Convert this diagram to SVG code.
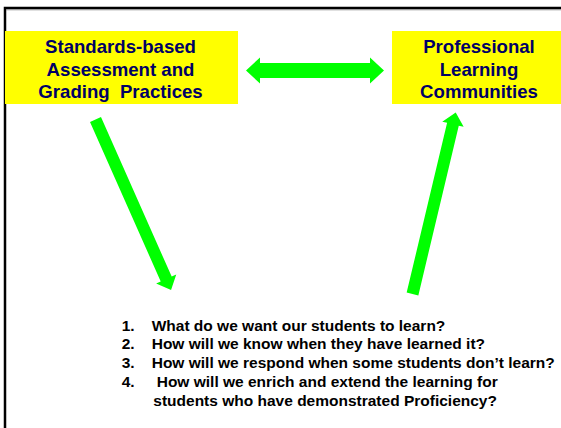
<svg xmlns="http://www.w3.org/2000/svg" width="561" height="428" viewBox="0 0 561 428">
  <defs>
    <style>
      .box { fill: #ffff00; }
      .head { font-family: "Liberation Sans", Arial, sans-serif; font-weight: bold; font-size: 18.6px; fill: #000066; text-anchor: middle; white-space: pre; }
      .list { font-family: "Liberation Sans", Arial, sans-serif; font-weight: bold; font-size: 15.5px; fill: #000000; }
      .arrow { fill: #00ff00; }
    </style>
  </defs>
  <rect x="0" y="0" width="561" height="428" fill="#ffffff"/>
  <!-- slide frame (runs past the right and bottom edges) -->
  <rect x="5" y="8" width="600" height="460" fill="none" stroke="#000000" stroke-width="2.5"/>
  <line x1="6" y1="9.8" x2="561" y2="9.8" stroke="#808080" stroke-width="0.8"/>

  <g id="node-standards">
    <rect class="box" x="5" y="31" width="233" height="73"/>
    <text class="head" x="120.5" y="53">Standards-based</text>
    <text class="head" x="120.5" y="75.5">Assessment and</text>
    <text class="head" x="120.5" y="98">Grading  Practices</text>
  </g>

  <g id="node-plc">
    <rect class="box" x="392" y="31" width="169" height="73"/>
    <text class="head" x="479" y="53">Professional</text>
    <text class="head" x="479" y="75.5">Learning</text>
    <text class="head" x="479" y="98">Communities</text>
  </g>

  <g id="node-questions">
    <text class="list" x="121.7" y="330.7">1.</text>
    <text class="list" x="151.7" y="330.7">What do we want our students to learn?</text>
    <text class="list" x="121.7" y="349.3">2.</text>
    <text class="list" x="151.7" y="349.3">How will we know when they have learned it?</text>
    <text class="list" x="121.7" y="368.3">3.</text>
    <text class="list" x="151.7" y="368.3">How will we respond when some students don’t learn?</text>
    <text class="list" x="121.7" y="387.3">4.</text>
    <text class="list" x="156.7" y="387.3">How will we enrich and extend the learning for</text>
    <text class="list" x="153.3" y="406">students who have demonstrated Proficiency?</text>
  </g>

  <g id="connectors">
    <!-- two-way link between the top boxes -->
    <path class="arrow" d="M246,70.5 L260,57.5 V63 H370 V57.5 L384,70.5 L370,83.5 V78 H260 V83.5 Z"/>
    <!-- grading practices down to the questions -->
    <path class="arrow" transform="translate(95.5,119.5) rotate(66.1)" d="M0,-6 H174.5 V-11 L186.5,0 L174.5,11 V6 H0 Z"/>
    <!-- questions up to the learning communities -->
    <path class="arrow" transform="translate(412.5,294) rotate(-76.6)" d="M0,-6 H174.5 V-11 L186.5,0 L174.5,11 V6 H0 Z"/>
  </g>
</svg>
